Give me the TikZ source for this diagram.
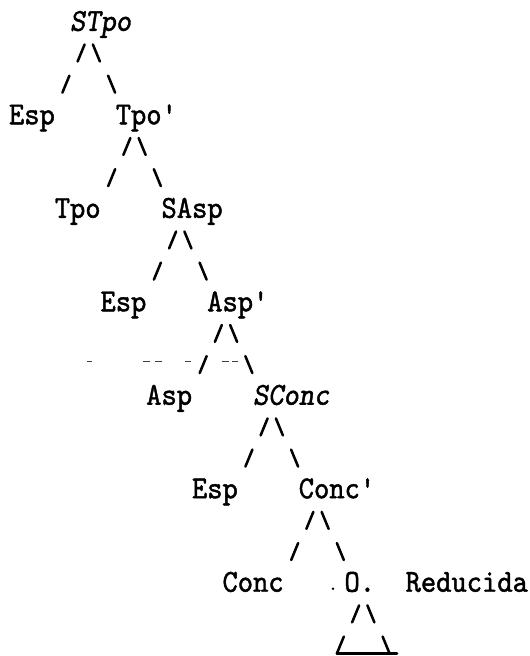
\documentclass[tikz,border=0pt]{standalone}
\usepackage{fontspec}
% typewriter faces, slightly emboldened and condensed like a ribbon print
\newfontfamily\twfont{lmmono10-regular.otf}[FakeBold=1.4,FakeStretch=0.91,Ligatures=TeXOff]
\newfontfamily\twslant{lmmonoslant10-regular.otf}[FakeBold=1.4,FakeStretch=0.91,Ligatures=TeXOff]

\tikzset{
  lbl/.style={anchor=base west, inner sep=0pt, outer sep=0pt,
    font=\twfont\fontsize{24pt}{28pt}\selectfont\frenchspacing},
  lblsl/.style={lbl, font=\twslant\fontsize{24pt}{28pt}\selectfont\frenchspacing},
  stroke/.style={line width=1.9pt, line cap=round},
  dashmark/.style={line width=0.9pt, draw=black!75},
  % the two rows of strokes "/\" and "/  \" under a label
  fork/.pic={
    \draw[stroke] (7.6,-0.5) -- (14.6,-17.5);
    \draw[stroke] (22.9,-17.5) -- (29.9,-0.5);
    \draw[stroke] (-7.6,30.66) -- (-0.6,13.66);
    \draw[stroke] (38.1,13.66) -- (45.1,30.66);
  }
}

\begin{document}
\begin{tikzpicture}[x=0.75pt, y=-0.75pt,
  declare function={cx(\c)=9+15.25*\c; by(\r)=30.84+31.16*(\r-1);}]
\useasboundingbox (0,0) rectangle (529,656);

% level 1
\node[lblsl] (stpo) at ({cx(4)},{by(1)}) {STpo};
\pic (f1) at ({cx(4)},{by(2)}) {fork};
\node[lbl] (esp1) at ({cx(0)},{by(4)}) {Esp};
\node[lbl] (tpobar) at ({cx(7)},{by(4)}) {Tpo\char"27};

% level 2
\pic (f2) at ({cx(7)},{by(5)}) {fork};
\node[lbl] (tpo) at ({cx(3)},{by(7)}) {Tpo};
\node[lbl] (sasp) at ({cx(10)},{by(7)}) {SAsp};

% level 3
\pic (f3) at ({cx(10)},{by(8)}) {fork};
\node[lbl] (esp2) at ({cx(6)},{by(10)}) {Esp};
\node[lbl] (aspbar) at ({cx(13)},{by(10)}) {Asp\char"27};

% level 4, with the broken dashes on the lower stroke row
\pic (f4) at ({cx(13)},{by(11)}) {fork};
\coordinate (dl) at (0,{by(12)-12});
\draw[dashmark] (87,0 |- dl) -- (92,0 |- dl);
\draw[dashmark] (143,0 |- dl) -- (150,0 |- dl);
\draw[dashmark] (155,0 |- dl) -- (162,0 |- dl);
\draw[dashmark] (185,0 |- dl) -- (191,0 |- dl);
\draw[dashmark] (222,0 |- dl) -- (229,0 |- dl);
\draw[dashmark] (232,0 |- dl) -- (238,0 |- dl);
\node[lbl] (asp) at ({cx(9)},{by(13)}) {Asp};
\node[lblsl] (sconc) at ({cx(16)},{by(13)}) {SConc};

% level 5
\pic (f5) at ({cx(16)},{by(14)}) {fork};
\node[lbl] (esp3) at ({cx(12)},{by(16)}) {Esp};
\node[lbl] (concbar) at ({cx(19)},{by(16)}) {Conc\char"27};

% level 6
\pic (f6) at ({cx(19)},{by(17)}) {fork};
\node[lbl] (conc) at ({cx(14)},{by(19)}) {Conc};
\node[lbl] (ored) at ({cx(22)},{by(19)}) {O.\ \ Reducida};
\fill (333,{by(19)-3}) circle (1.3);

% triangle under the reduced clause
\draw[stroke] ({cx(22)+7.6},{by(20)-0.5}) -- ({cx(22)+14.6},{by(20)-17.5});
\draw[stroke] ({cx(22)+22.9},{by(20)-17.5}) -- ({cx(22)+29.9},{by(20)-0.5});
\draw[stroke] ({cx(21)+7.6},{by(21)-0.5}) -- ({cx(21)+14.6},{by(21)-17.5});
\draw[stroke] ({cx(24)+7.6},{by(21)-17.5}) -- ({cx(24)+14.6},{by(21)-0.5});
\draw[stroke] ({cx(21)+7.6},{by(21)-0.5}) -- (397,{by(21)-0.5});
\end{tikzpicture}
\end{document}
